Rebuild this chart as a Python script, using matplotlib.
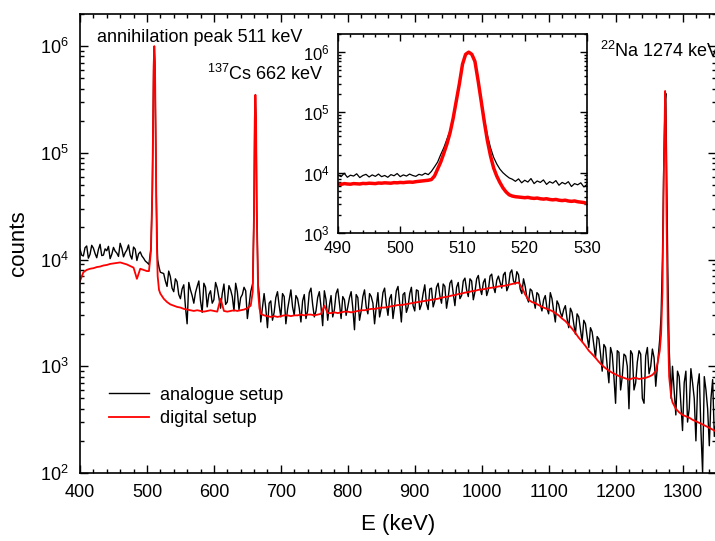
import numpy as np
import matplotlib
matplotlib.use('Agg')
import matplotlib.pyplot as plt
from matplotlib.ticker import LogLocator, MultipleLocator, NullFormatter

plt.rcParams['font.family'] = ['Liberation Sans', 'DejaVu Sans']
plt.rcParams['mathtext.fontset'] = 'custom'
plt.rcParams['mathtext.rm'] = 'Liberation Sans'
plt.rcParams['mathtext.it'] = 'Liberation Sans:italic'
plt.rcParams['mathtext.default'] = 'regular'

# ---- main spectrum, background read every 5 keV (+ in-between values for the noisy
# analogue trace), peaks read separately ----
# segment 400-500 keV
seg1_e = np.arange(400, 501, 5)
seg1_ana = [12500, 10800, 13400, 11200, 12800, 10400, 13900, 11000, 12100, 10200,
            13000, 11500, 14200, 10600, 12300, 11000, 13100, 9800, 11800, 10300, 9400]
seg1_mid = [11000, 12900, 10300, 13600, 11400, 12400, 10900, 12600, 13300, 11200,
            12000, 10700, 12700, 11600, 13700, 10100, 12500, 11300, 10800, 9700]
seg1_dig = [6300, 7600, 8000, 8200, 8300, 8500, 8600, 8800, 8900, 9100,
            9200, 9300, 9400, 9200, 9000, 8700, 8400, 6600, 8200, 8000, 7800]

# annihilation peak 511 keV
pk1_e = [503, 506, 508, 509, 510, 511, 512, 513, 514, 515, 516, 518, 520]
pk1_ana = [9000, 13000, 40000, 150000, 600000, 950000, 600000, 150000, 40000, 16000, 10000, 8500, 7600]
pk1_dig = [7800, 12000, 45000, 150000, 650000, 1000000, 700000, 150000, 34000, 12000, 7000, 5200, 4800]

# segment 525-650 keV
seg2_e = np.arange(525, 651, 5)
seg2_ana = [7400, 5600, 6900, 5000, 6200, 4300, 5800, 2500, 5200, 3900, 5600, 4100, 6000,
            3600, 5100, 4200, 5400, 3500, 5900, 4000, 5200, 3300, 5000, 4400, 5500, 2800]
seg2_mid = [6300, 7800, 5400, 6600, 4700, 5300, 3600, 6100, 4600, 4900, 6300, 3200, 5500,
            4700, 3900, 6100, 4400, 4800, 3800, 5700, 4500, 6000, 3400, 4700, 5100]
seg2_dig = [4300, 4000, 3800, 3700, 3600, 3550, 3450, 3400, 3350, 3300, 3350, 3300, 3250,
            3300, 3350, 3300, 3250, 4300, 3300, 3250, 3300, 3350, 3300, 3350, 3400, 3500]

# 137Cs peak 662 keV
pk2_e = [655, 658, 660, 661, 662, 663, 664, 666, 668, 670]
pk2_ana = [5000, 6000, 30000, 200000, 330000, 200000, 30000, 6000, 4500, 2600]
pk2_dig = [3700, 5000, 30000, 200000, 350000, 200000, 30000, 5000, 3500, 3100]

# segment 675-1260 keV
seg3_e = np.arange(675, 1261, 5)
seg3_ana = [4800, 2300, 4100, 3200, 5000, 2900, 4500, 3400, 5200, 3000,
            4300, 2600, 4700, 3300, 5400, 2900, 4400, 3600, 5100, 2700,
            4600, 3400, 5300, 2800, 4200, 3600, 5000, 2200, 4400, 3300,
            5200, 3100, 4500, 2500, 4900, 3500, 5400, 3000, 4700, 3700,
            5600, 2600, 4900, 3600, 5500, 3300, 5100, 3800, 5800, 3400,
            5400, 4100, 6000, 3900, 5600, 4400, 6400, 3700, 6100, 4600,
            6700, 4500, 6300, 5000, 7100, 4700, 6600, 5200, 7300, 4900,
            7000, 5400, 7600, 5600, 8000, 5900, 7200, 4800, 5600, 4000,
            5100, 3500, 4700, 3300, 4600, 3100, 4300, 2600, 3800, 2900,
            3700, 2300, 3200, 2000, 2900, 1700, 2500, 1500, 2100, 1200,
            1800, 900, 1500, 700, 1300, 450, 1350, 800, 1250, 400,
            1300, 700, 1400, 500, 1250, 850, 1450, 650]
seg3_mid = [3500, 3900, 2700, 4400, 3700, 4800, 2500, 4200, 3600, 4600,
            3500, 4100, 2800, 4900, 3800, 3300, 5000, 2400, 4200, 3700,
            2900, 4800, 3900, 4500, 3000, 4400, 3500, 4700, 2700, 4500,
            3600, 4800, 3900, 3600, 2900, 4900, 3800, 4300, 2800, 5100,
            3900, 4700, 3200, 4800, 3700, 5200, 3400, 4800, 3900, 5300,
            3600, 5500, 4600, 5900, 3500, 6000, 4800, 5500, 4300, 6300,
            5200, 6600, 4200, 6600, 5400, 6100, 4600, 7000, 5600, 6400,
            6100, 7200, 5100, 7500, 6300, 7700, 5300, 6600, 4400, 5300,
            4200, 4900, 3800, 4200, 3500, 4900, 3300, 4100, 3200, 3400,
            2800, 3500, 2500, 3100, 2200, 2700, 1900, 2300, 1600, 1900,
            1300, 1600, 1000, 1500, 800, 1400, 600, 1300, 1000, 1400,
            600, 1100, 1300, 450, 1500, 1000, 1200]
seg3_dig = [3000, 2950, 2900, 2950, 2900, 2950, 3000, 3000, 2950, 3000,
            3000, 3050, 3000, 3050, 3050, 3000, 3050, 3100, 3700, 3150,
            3150, 3200, 3150, 3200, 3250, 3250, 3200, 3250, 3300, 3350,
            3350, 3400, 3450, 3450, 3500, 3550, 3550, 3600, 3650, 3700,
            3750, 3750, 3800, 3850, 3900, 3950, 4000, 4050, 4100, 4150,
            4200, 4250, 4300, 4400, 4450, 4500, 4600, 4650, 4750, 4800,
            4900, 4950, 5050, 5100, 5200, 5250, 5300, 5400, 5450, 5500,
            5600, 5650, 5700, 5800, 5900, 6000, 6100, 5500, 4700, 4200,
            4000, 3900, 3750, 3600, 3500, 3400, 3300, 3150, 3000, 2800,
            2650, 2450, 2250, 2050, 1850, 1700, 1550, 1400, 1300, 1200,
            1100, 1020, 960, 910, 870, 840, 810, 790, 770, 750,
            770, 780, 760, 770, 780, 800, 830, 900]

# 22Na peak 1274 keV
pk3_e = [1263, 1266, 1268, 1270, 1272, 1274, 1275, 1276, 1278, 1280, 1283]
pk3_ana = [1100, 1800, 3000, 10000, 80000, 300000, 360000, 100000, 8000, 1500, 500]
pk3_dig = [1100, 1400, 2000, 5000, 60000, 380000, 200000, 30000, 2500, 800, 520]

# segment 1285-1350 keV
seg4_e = np.arange(1285, 1351, 5)
seg4_ana = [1000, 350, 800, 250, 900, 400, 700, 200, 850, 100, 600, 180, 750, 300]
seg4_mid = [600, 900, 450, 700, 300, 950, 500, 650, 250, 800, 400, 500, 220]
seg4_dig = [460, 400, 370, 350, 340, 330, 315, 305, 295, 285, 275, 265, 255, 245]

# ---- inset: 490-530 keV, 0.5 keV steps ----
ins_e = np.arange(490, 530.01, 0.5)
ins_ana = [9200, 8600, 9800, 8400, 9100, 8800, 9600, 8300, 9000, 9400,
           8500, 9200, 8700, 9500, 8600, 9000, 8400, 9300, 8900, 9700,
           8600, 9200, 8800, 9500, 9000, 8700, 9400, 9100, 9800, 9300, 10500,
           12500, 15000, 20000, 26000, 36000, 50000, 80000, 160000, 300000, 620000,
           900000, 1000000, 920000, 700000, 360000, 170000, 80000, 42000, 26000, 18000,
           14000, 11500, 10000, 9000, 8200, 7800,
           7200, 7900, 6800, 7500, 7000, 8000, 6600, 7300, 6900, 7600, 6400, 7100,
           6700, 7400, 6200, 6900, 6500, 7100, 5900, 6600, 6300, 6800, 5800, 6400]
ins_dig = [6500, 6400, 6600, 6500, 6450, 6600, 6550, 6500, 6650, 6600,
           6700, 6650, 6600, 6750, 6700, 6800, 6750, 6700, 6850, 6800,
           6900, 6850, 6950, 7000, 6950, 7100, 7200, 7300, 7400, 7500, 7700,
           8800, 11500, 15000, 21000, 30000, 46000, 80000, 155000, 300000, 630000,
           920000, 1000000, 920000, 700000, 340000, 155000, 70000, 34000, 19000, 12000,
           8800, 6900, 5600, 4800, 4300, 4100,
           4000, 3950, 3900, 3850, 3900, 3800, 3750, 3800, 3700, 3650, 3700, 3600,
           3550, 3600, 3500, 3450, 3500, 3400, 3350, 3400, 3300, 3250, 3200, 3100]


def join(parts_e, parts_v):
    e = np.concatenate([np.asarray(p, dtype=float) for p in parts_e])
    v = np.concatenate([np.asarray(p, dtype=float) for p in parts_v])
    order = np.argsort(e, kind='stable')
    return e[order], v[order]


def mids(e):
    return np.asarray(e[:-1], dtype=float) + 2.5


E_ana, C_ana = join(
    [seg1_e, mids(seg1_e), pk1_e, seg2_e, mids(seg2_e), pk2_e,
     seg3_e, mids(seg3_e), pk3_e, seg4_e, mids(seg4_e)],
    [seg1_ana, seg1_mid, pk1_ana, seg2_ana, seg2_mid, pk2_ana,
     seg3_ana, seg3_mid, pk3_ana, seg4_ana, seg4_mid])
E_dig, C_dig = join(
    [seg1_e, pk1_e, seg2_e, pk2_e, seg3_e, pk3_e, seg4_e],
    [seg1_dig, pk1_dig, seg2_dig, pk2_dig, seg3_dig, pk3_dig, seg4_dig])

fig = plt.figure(figsize=(7.15, 5.41), dpi=100)
ax = fig.add_axes([80 / 715, 68 / 541, 636 / 715, 459 / 541])

ax.plot(E_ana, C_ana, color='black', lw=1.0, label='analogue setup')
ax.plot(E_dig, C_dig, color='red', lw=1.3, label='digital setup')

ax.set_yscale('log')
ax.set_xlim(400, 1350)
ax.set_ylim(1e2, 2e6)
ax.xaxis.set_major_locator(MultipleLocator(100))
ax.xaxis.set_minor_locator(MultipleLocator(20))
ax.yaxis.set_major_locator(LogLocator(base=10))
ax.yaxis.set_minor_locator(LogLocator(base=10, subs=np.arange(2, 10)))
ax.yaxis.set_minor_formatter(NullFormatter())
ax.tick_params(which='both', direction='in', top=True, right=True, labelsize=13, width=1.0)
ax.tick_params(which='major', length=6, pad=8)
ax.tick_params(which='minor', length=3)
for s in ax.spines.values():
    s.set_linewidth(1.2)

ax.set_xlabel('E (keV)', fontsize=16, labelpad=9)
ax.set_ylabel('counts', fontsize=16, labelpad=8)

ax.text(425, 1.21e6, 'annihilation peak 511 keV', fontsize=13, va='center')
ax.text(590, 5.5e5, '$^{137}$Cs 662 keV', fontsize=13, va='center')
ax.text(1176, 9.1e5, '$^{22}$Na 1274 keV', fontsize=13, va='center')

ax.legend(loc='lower left', bbox_to_anchor=(0.02, 0.065), frameon=False, fontsize=13,
          handlelength=2.2, handletextpad=0.6, labelspacing=0.35)

# inset
axi = fig.add_axes([338 / 715, 308 / 541, 249 / 715, 199 / 541])
axi.plot(ins_e, ins_ana, color='black', lw=0.9)
axi.plot(ins_e, ins_dig, color='red', lw=2.5)
axi.set_yscale('log')
axi.set_xlim(490, 530)
axi.set_ylim(1e3, 2e6)
axi.xaxis.set_major_locator(MultipleLocator(10))
axi.xaxis.set_minor_locator(MultipleLocator(2))
axi.yaxis.set_major_locator(LogLocator(base=10))
axi.yaxis.set_minor_locator(LogLocator(base=10, subs=np.arange(2, 10)))
axi.yaxis.set_minor_formatter(NullFormatter())
axi.tick_params(which='both', direction='in', top=True, right=True, labelsize=12, width=1.0)
axi.tick_params(which='major', length=5, pad=6)
axi.tick_params(which='minor', length=2.5)
for s in axi.spines.values():
    s.set_linewidth(1.2)

fig.savefig('out.png', dpi=100)
